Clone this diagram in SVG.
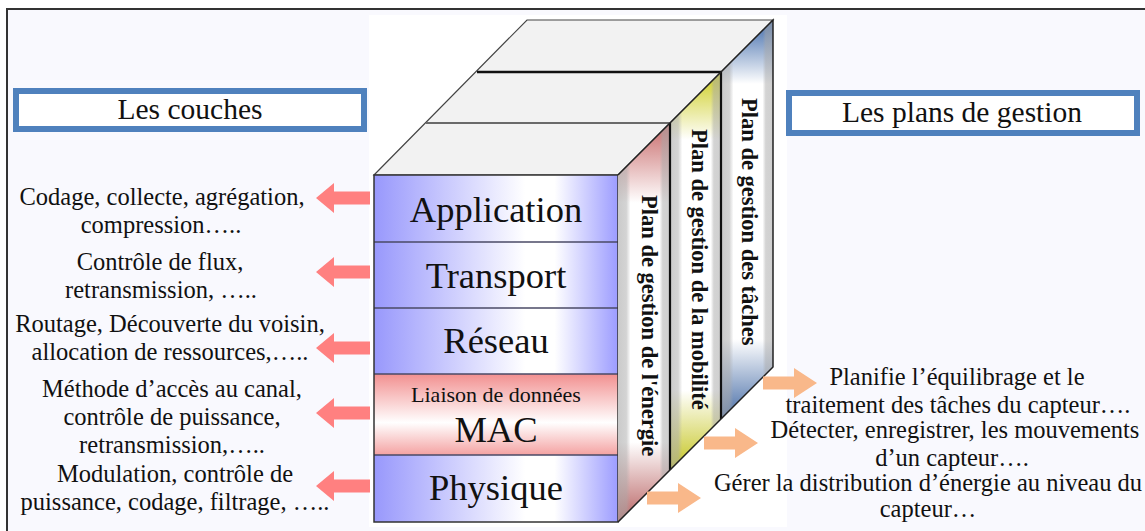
<svg xmlns="http://www.w3.org/2000/svg" xmlns:xlink="http://www.w3.org/1999/xlink" width="1145" height="531" viewBox="0 0 1145 531" font-family="'Liberation Serif', 'DejaVu Serif', serif">
  <style>
    text { font-family: 'Liberation Serif', 'DejaVu Serif', serif; fill: #111; }
    .desc { font-size: 24.5px; text-anchor: middle; }
    .layer { font-size: 36.5px; text-anchor: middle; }
    .title { font-size: 29.5px; text-anchor: middle; }
    .plan { font-size: 22.5px; font-weight: bold; }
    .titlebox { fill: #ffffff; stroke: #4f81bd; stroke-width: 6; }
    .sep { stroke: #4a4a66; stroke-width: 1.5; }
    .divider { stroke: #111; stroke-width: 2.2; }
    .arrowL { fill: #ff8080; }
    .arrowR { fill: #f9b88a; }
  </style>
  <defs>
    <linearGradient id="gBlue" x1="0" y1="0" x2="1" y2="0">
      <stop offset="0" stop-color="#9898fc"/>
      <stop offset="0.62" stop-color="#ffffff"/>
      <stop offset="0.74" stop-color="#ffffff"/>
      <stop offset="1" stop-color="#9c9cff"/>
    </linearGradient>
    <linearGradient id="gRed" x1="0" y1="0" x2="0" y2="1">
      <stop offset="0" stop-color="#f29090"/>
      <stop offset="0.6" stop-color="#ffffff"/>
      <stop offset="1" stop-color="#f4a2a2"/>
    </linearGradient>
    <linearGradient id="gStrip1" x1="0" y1="0" x2="0" y2="1">
      <stop offset="0" stop-color="#c86a6a"/>
      <stop offset="0.2" stop-color="#ffffff"/>
      <stop offset="0.8" stop-color="#ffffff"/>
      <stop offset="1" stop-color="#b86262"/>
    </linearGradient>
    <linearGradient id="gStrip2" x1="0" y1="0" x2="0" y2="1">
      <stop offset="0" stop-color="#cccc1c"/>
      <stop offset="0.17" stop-color="#ffffff"/>
      <stop offset="0.8" stop-color="#ffffff"/>
      <stop offset="1" stop-color="#c4c41c"/>
    </linearGradient>
    <linearGradient id="gStrip3" x1="0" y1="0" x2="0" y2="1">
      <stop offset="0" stop-color="#3f6aaa"/>
      <stop offset="0.16" stop-color="#ffffff"/>
      <stop offset="0.8" stop-color="#ffffff"/>
      <stop offset="1" stop-color="#466ca6"/>
    </linearGradient>
    <linearGradient id="gEdges" x1="0" y1="0" x2="1" y2="0">
      <stop offset="0" stop-color="#a8a8a8" stop-opacity="0.6"/>
      <stop offset="0.16" stop-color="#a8a8a8" stop-opacity="0.5"/>
      <stop offset="0.24" stop-color="#a8a8a8" stop-opacity="0"/>
      <stop offset="0.8" stop-color="#a8a8a8" stop-opacity="0"/>
      <stop offset="0.86" stop-color="#a8a8a8" stop-opacity="0.5"/>
      <stop offset="1" stop-color="#a8a8a8" stop-opacity="0.55"/>
    </linearGradient>
    <path id="arrowLeft" d="M0,0 L18,-15 L18,-6.5 L54,-6.5 L54,6.5 L18,6.5 L18,15 Z"/>
    <path id="arrowRight" d="M0,0 L-23,-15 L-23,-6.5 L-54,-6.5 L-54,6.5 L-23,6.5 L-23,15 Z"/>
  </defs>

  <!-- page background and frame -->
  <rect x="0" y="0" width="1145" height="531" fill="#ffffff"/>
  <rect x="7" y="9" width="1145" height="530" fill="#f9f9fe"/>
  <path d="M7,531 V9 H1145" fill="none" stroke="#333" stroke-width="2"/>
  <rect x="369" y="15" width="418" height="512" fill="#ffffff"/>

  <!-- section titles -->
  <g id="title-layers">
    <rect class="titlebox" x="16" y="91" width="348" height="38"/>
    <text class="title" x="190" y="119">Les couches</text>
  </g>
  <g id="title-planes">
    <rect class="titlebox" x="789" y="93" width="348" height="40"/>
    <text class="title" x="962" y="122">Les plans de gestion</text>
  </g>

  <!-- top face of the stack, split into three bands -->
  <g id="stack-top">
    <polygon points="374,175 527,20 773,20 618,175" fill="#f2f2f2" stroke="#444" stroke-width="1.2"/>
    <line x1="426" y1="123" x2="670" y2="123" stroke="#6a6a6a" stroke-width="2"/>
    <line x1="477" y1="72" x2="721" y2="72" stroke="#111" stroke-width="2.5"/>
  </g>

  <!-- protocol layers (front face) -->
  <g id="layer-application">
    <rect x="374" y="175" width="244" height="67" fill="url(#gBlue)"/>
    <text class="layer" x="496" y="222">Application</text>
  </g>
  <g id="layer-transport">
    <rect x="374" y="242" width="244" height="66" fill="url(#gBlue)"/>
    <text class="layer" x="496" y="288">Transport</text>
  </g>
  <g id="layer-reseau">
    <rect x="374" y="308" width="244" height="66" fill="url(#gBlue)"/>
    <text class="layer" x="496" y="353">Réseau</text>
  </g>
  <g id="layer-mac">
    <rect x="374" y="374" width="244" height="81" fill="url(#gRed)"/>
    <text x="496" y="402" font-size="22" text-anchor="middle">Liaison de données</text>
    <text class="layer" x="496" y="442">MAC</text>
  </g>
  <g id="layer-physique">
    <rect x="374" y="455" width="244" height="67" fill="url(#gBlue)"/>
    <text class="layer" x="496" y="500">Physique</text>
  </g>
  <g id="layer-separators">
    <line class="sep" x1="374" y1="242" x2="618" y2="242"/>
    <line class="sep" x1="374" y1="308" x2="618" y2="308"/>
    <line class="sep" x1="374" y1="374" x2="618" y2="374"/>
    <line class="sep" x1="374" y1="455" x2="618" y2="455"/>
    <rect x="374" y="175" width="244" height="347" fill="none" stroke="#333" stroke-width="1.5"/>
  </g>

  <!-- management planes (side face) -->
  <g id="plan-energie">
    <polygon points="618,175 670,123 670,470 618,522" fill="url(#gStrip1)"/>
    <polygon points="618,175 670,123 670,470 618,522" fill="url(#gEdges)"/>
    <text class="plan" transform="translate(642,195) rotate(90)">Plan de gestion de l'énergie</text>
  </g>
  <g id="plan-mobilite">
    <polygon points="670,123 721,72 721,419 670,470" fill="url(#gStrip2)"/>
    <polygon points="670,123 721,72 721,419 670,470" fill="url(#gEdges)"/>
    <text class="plan" transform="translate(692,129) rotate(90)">Plan de gestion de la mobilité</text>
  </g>
  <g id="plan-taches">
    <polygon points="721,72 773,20 773,367 721,419" fill="url(#gStrip3)"/>
    <polygon points="721,72 773,20 773,367 721,419" fill="url(#gEdges)"/>
    <text class="plan" transform="translate(742,98) rotate(90)">Plan de gestion des tâches</text>
  </g>
  <g id="side-outline">
    <line class="divider" x1="670" y1="123" x2="670" y2="470"/>
    <line class="divider" x1="721" y1="72" x2="721" y2="419"/>
    <polyline points="618,175 773,20 773,367 618,522" fill="none" stroke="#222" stroke-width="1.5"/>
  </g>

  <!-- layer functions -->
  <g id="desc-application">
    <text class="desc" x="162" y="205">Codage, collecte, agrégation,</text>
    <text class="desc" x="161" y="233">compression…..</text>
  </g>
  <g id="desc-transport">
    <text class="desc" x="160" y="270">Contrôle de flux,</text>
    <text class="desc" x="161" y="298">retransmission, …..</text>
  </g>
  <g id="desc-reseau">
    <text class="desc" x="170" y="332">Routage, Découverte du voisin,</text>
    <text class="desc" x="170" y="360">allocation de ressources,…..</text>
  </g>
  <g id="desc-mac">
    <text class="desc" x="172" y="397">Méthode d’accès au canal,</text>
    <text class="desc" x="172" y="425">contrôle de puissance,</text>
    <text class="desc" x="172" y="453">retransmission,…..</text>
  </g>
  <g id="desc-physique">
    <text class="desc" x="175" y="482">Modulation, contrôle de</text>
    <text class="desc" x="175" y="510">puissance, codage, filtrage, …..</text>
  </g>

  <!-- plane functions -->
  <g id="desc-taches">
    <text class="desc" x="957" y="385">Planifie l’équilibrage et le</text>
    <text class="desc" x="958" y="413">traitement des tâches du capteur….</text>
  </g>
  <g id="desc-mobilite">
    <text class="desc" x="955" y="438">Détecter, enregistrer, les mouvements</text>
    <text class="desc" x="952" y="466">d’un capteur….</text>
  </g>
  <g id="desc-energie">
    <text class="desc" x="928" y="491">Gérer la distribution d’énergie au niveau du</text>
    <text class="desc" x="928" y="517">capteur…</text>
  </g>

  <!-- arrows -->
  <g id="connectors">
    <use xlink:href="#arrowLeft" class="arrowL" x="316" y="198"/>
    <use xlink:href="#arrowLeft" class="arrowL" x="316" y="272"/>
    <use xlink:href="#arrowLeft" class="arrowL" x="316" y="348"/>
    <use xlink:href="#arrowLeft" class="arrowL" x="316" y="413"/>
    <use xlink:href="#arrowLeft" class="arrowL" x="316" y="486"/>
    <use xlink:href="#arrowRight" class="arrowR" x="817" y="383"/>
    <use xlink:href="#arrowRight" class="arrowR" x="758" y="443"/>
    <use xlink:href="#arrowRight" class="arrowR" x="701" y="498"/>
  </g>
</svg>
